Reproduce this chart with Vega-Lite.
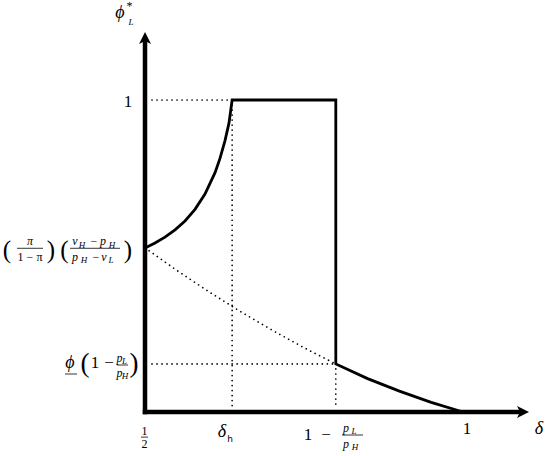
{
  "$schema": "https://vega.github.io/schema/vega-lite/v6.json",
  "width": 550,
  "height": 456,
  "autosize": "none",
  "padding": 0,
  "background": "white",
  "config": {"view": {"stroke": null}},
  "datasets": {
    "curve": [
      {"o": 0, "x": 0.5, "y": 0.526},
      {"o": 1, "x": 0.5157, "y": 0.5417},
      {"o": 2, "x": 0.5314, "y": 0.5606},
      {"o": 3, "x": 0.5472, "y": 0.5837},
      {"o": 4, "x": 0.5629, "y": 0.6122},
      {"o": 5, "x": 0.5786, "y": 0.6494},
      {"o": 6, "x": 0.5943, "y": 0.6984},
      {"o": 7, "x": 0.6101, "y": 0.767},
      {"o": 8, "x": 0.6179, "y": 0.8129},
      {"o": 9, "x": 0.6258, "y": 0.8699},
      {"o": 10, "x": 0.6321, "y": 0.9266},
      {"o": 11, "x": 0.637, "y": 1.0},
      {"o": 12, "x": 0.8, "y": 1.0},
      {"o": 13, "x": 0.8, "y": 0.154},
      {"o": 14, "x": 0.85, "y": 0.107},
      {"o": 15, "x": 0.9, "y": 0.067},
      {"o": 16, "x": 0.95, "y": 0.031},
      {"o": 17, "x": 1.0, "y": 0.0}
    ],
    "dots": [
      {"seg": "a", "o": 0, "x": 0.511, "y": 1.0},
      {"seg": "a", "o": 1, "x": 0.637, "y": 1.0},
      {"seg": "b", "o": 0, "x": 0.637, "y": 1.0},
      {"seg": "b", "o": 1, "x": 0.637, "y": 0.016},
      {"seg": "c", "o": 0, "x": 0.5, "y": 0.526},
      {"seg": "c", "o": 1, "x": 0.55, "y": 0.454},
      {"seg": "c", "o": 2, "x": 0.6, "y": 0.386},
      {"seg": "c", "o": 3, "x": 0.65, "y": 0.322},
      {"seg": "c", "o": 4, "x": 0.7, "y": 0.262},
      {"seg": "c", "o": 5, "x": 0.75, "y": 0.206},
      {"seg": "c", "o": 6, "x": 0.8, "y": 0.154},
      {"seg": "d", "o": 0, "x": 0.511, "y": 0.154},
      {"seg": "d", "o": 1, "x": 0.8, "y": 0.154},
      {"seg": "e", "o": 0, "x": 0.8, "y": 0.154},
      {"seg": "e", "o": 1, "x": 0.8, "y": 0.016}
    ],
    "axes": [
      {"x": 0.5, "y": 0, "x2": 1.0897, "y2": 0},
      {"x": 0.5, "y": 0, "x2": 0.5, "y2": 1.1923}
    ],
    "arrows": [
      {"dir": "up", "x": 0.5, "y": 1.2179},
      {"dir": "right", "x": 1.1038, "y": 0}
    ],
    "bars": [
      {"x": 0.2987, "x2": 0.3396, "y": 0.5247},
      {"x": 0.3821, "x2": 0.4607, "y": 0.5247},
      {"x": 0.3742, "x2": 0.3931, "y": 0.1218},
      {"x": 0.456, "x2": 0.4733, "y": 0.1507},
      {"x": 0.4937, "x2": 0.5047, "y": -0.0804},
      {"x": 0.8098, "x2": 0.8428, "y": -0.0737}
    ],
    "txt": [
      {"x": 0.4607, "y": 1.2788, "t": "ϕ", "k": "LI"},
      {"x": 0.4756, "y": 1.3013, "t": "*", "k": "S"},
      {"x": 0.478, "y": 1.25, "t": "L", "k": "T"},
      {"x": 0.4733, "y": 0.9936, "t": "1", "k": "L"},
      {"x": 0.283, "y": 0.5193, "t": "(", "k": "P"},
      {"x": 0.3192, "y": 0.5465, "t": "π", "k": "SI"},
      {"x": 0.3192, "y": 0.4968, "t": "1 − π", "k": "S"},
      {"x": 0.3522, "y": 0.5193, "t": ")", "k": "P"},
      {"x": 0.3734, "y": 0.5193, "t": "(", "k": "P"},
      {"x": 0.3899, "y": 0.5465, "t": "v", "k": "SI"},
      {"x": 0.4009, "y": 0.5353, "t": "H", "k": "T"},
      {"x": 0.4198, "y": 0.5465, "t": "−", "k": "S"},
      {"x": 0.434, "y": 0.5465, "t": "p", "k": "SI"},
      {"x": 0.4481, "y": 0.5353, "t": "H", "k": "T"},
      {"x": 0.3899, "y": 0.4968, "t": "p", "k": "SI"},
      {"x": 0.4041, "y": 0.4875, "t": "H", "k": "T"},
      {"x": 0.4229, "y": 0.4968, "t": "−", "k": "S"},
      {"x": 0.4355, "y": 0.4968, "t": "v", "k": "SI"},
      {"x": 0.4465, "y": 0.4875, "t": "L", "k": "T"},
      {"x": 0.4733, "y": 0.5193, "t": ")", "k": "P"},
      {"x": 0.3821, "y": 0.1571, "t": "ϕ", "k": "LI"},
      {"x": 0.4057, "y": 0.1539, "t": "(", "k": "PB"},
      {"x": 0.4214, "y": 0.1571, "t": "1", "k": "L"},
      {"x": 0.4434, "y": 0.1571, "t": "−", "k": "L"},
      {"x": 0.4599, "y": 0.1731, "t": "p", "k": "SI"},
      {"x": 0.4678, "y": 0.1635, "t": "L", "k": "T"},
      {"x": 0.4599, "y": 0.1251, "t": "p", "k": "SI"},
      {"x": 0.4685, "y": 0.1154, "t": "H", "k": "T"},
      {"x": 0.4827, "y": 0.1539, "t": ")", "k": "PB"},
      {"x": 0.4992, "y": -0.0609, "t": "1", "k": "S"},
      {"x": 0.4992, "y": -0.1025, "t": "2", "k": "S"},
      {"x": 0.6211, "y": -0.0641, "t": "δ", "k": "LI"},
      {"x": 0.6337, "y": -0.0865, "t": "h", "k": "H"},
      {"x": 0.7563, "y": -0.0737, "t": "1", "k": "L"},
      {"x": 0.7846, "y": -0.0737, "t": "−", "k": "L"},
      {"x": 0.816, "y": -0.0513, "t": "p", "k": "SI"},
      {"x": 0.8286, "y": -0.0609, "t": "L", "k": "T"},
      {"x": 0.816, "y": -0.1025, "t": "p", "k": "SI"},
      {"x": 0.8302, "y": -0.1121, "t": "H", "k": "T"},
      {"x": 1.0063, "y": -0.0544, "t": "1", "k": "L"},
      {"x": 1.1195, "y": -0.0544, "t": "δ", "k": "LI"}
    ]
  },
  "layer": [
    {
      "data": {"name": "dots"},
      "mark": {"type": "line", "color": "black", "strokeWidth": 1.7, "strokeDash": [0.01, 5], "strokeCap": "round"},
      "encoding": {
        "x": {"field": "x", "type": "quantitative", "scale": {"domain": [0.272, 1.1368], "nice": false, "zero": false}, "axis": null},
        "y": {"field": "y", "type": "quantitative", "scale": {"domain": [-0.141, 1.3205], "nice": false, "zero": false}, "axis": null},
        "detail": {"field": "seg"},
        "order": {"field": "o"}
      }
    },
    {
      "data": {"name": "axes"},
      "mark": {"type": "rule", "color": "black", "strokeWidth": 4.5, "strokeCap": "square"},
      "encoding": {
        "x": {"field": "x", "type": "quantitative"},
        "y": {"field": "y", "type": "quantitative"},
        "x2": {"field": "x2"},
        "y2": {"field": "y2"}
      }
    },
    {
      "data": {"name": "curve"},
      "mark": {"type": "line", "color": "black", "strokeWidth": 2.8, "strokeJoin": "miter"},
      "encoding": {
        "x": {"field": "x", "type": "quantitative"},
        "y": {"field": "y", "type": "quantitative"},
        "order": {"field": "o"}
      }
    },
    {
      "data": {"name": "arrows"},
      "transform": [{"filter": "datum.dir === 'up'"}],
      "mark": {"type": "point", "shape": "M0,0L1,2L0,1.5L-1,2Z", "size": 144, "filled": true, "color": "black", "opacity": 1, "strokeWidth": 0},
      "encoding": {
        "x": {"field": "x", "type": "quantitative"},
        "y": {"field": "y", "type": "quantitative"}
      }
    },
    {
      "data": {"name": "arrows"},
      "transform": [{"filter": "datum.dir === 'right'"}],
      "mark": {"type": "point", "shape": "M0,0L-2,1L-1.5,0L-2,-1Z", "size": 144, "filled": true, "color": "black", "opacity": 1, "strokeWidth": 0},
      "encoding": {
        "x": {"field": "x", "type": "quantitative"},
        "y": {"field": "y", "type": "quantitative"}
      }
    },
    {
      "data": {"name": "bars"},
      "mark": {"type": "rule", "color": "black", "strokeWidth": 0.8},
      "encoding": {
        "x": {"field": "x", "type": "quantitative"},
        "x2": {"field": "x2"},
        "y": {"field": "y", "type": "quantitative"}
      }
    },
    {
      "data": {"name": "txt"},
      "transform": [{"filter": "datum.k === 'L'"}],
      "mark": {"type": "text", "font": "Liberation Serif", "fontSize": 17, "align": "center", "baseline": "middle", "color": "black"},
      "encoding": {"x": {"field": "x", "type": "quantitative"}, "y": {"field": "y", "type": "quantitative"}, "text": {"field": "t"}}
    },
    {
      "data": {"name": "txt"},
      "transform": [{"filter": "datum.k === 'LI'"}],
      "mark": {"type": "text", "font": "Liberation Serif", "fontStyle": "italic", "fontSize": 18, "align": "center", "baseline": "middle", "color": "black"},
      "encoding": {"x": {"field": "x", "type": "quantitative"}, "y": {"field": "y", "type": "quantitative"}, "text": {"field": "t"}}
    },
    {
      "data": {"name": "txt"},
      "transform": [{"filter": "datum.k === 'S'"}],
      "mark": {"type": "text", "font": "Liberation Serif", "fontSize": 12, "align": "center", "baseline": "middle", "color": "black"},
      "encoding": {"x": {"field": "x", "type": "quantitative"}, "y": {"field": "y", "type": "quantitative"}, "text": {"field": "t"}}
    },
    {
      "data": {"name": "txt"},
      "transform": [{"filter": "datum.k === 'SI'"}],
      "mark": {"type": "text", "font": "Liberation Serif", "fontStyle": "italic", "fontSize": 12, "align": "center", "baseline": "middle", "color": "black"},
      "encoding": {"x": {"field": "x", "type": "quantitative"}, "y": {"field": "y", "type": "quantitative"}, "text": {"field": "t"}}
    },
    {
      "data": {"name": "txt"},
      "transform": [{"filter": "datum.k === 'T'"}],
      "mark": {"type": "text", "font": "Liberation Serif", "fontStyle": "italic", "fontSize": 9, "align": "center", "baseline": "middle", "color": "black"},
      "encoding": {"x": {"field": "x", "type": "quantitative"}, "y": {"field": "y", "type": "quantitative"}, "text": {"field": "t"}}
    },
    {
      "data": {"name": "txt"},
      "transform": [{"filter": "datum.k === 'P'"}],
      "mark": {"type": "text", "font": "Liberation Serif", "fontSize": 25, "align": "center", "baseline": "middle", "color": "black"},
      "encoding": {"x": {"field": "x", "type": "quantitative"}, "y": {"field": "y", "type": "quantitative"}, "text": {"field": "t"}}
    },
    {
      "data": {"name": "txt"},
      "transform": [{"filter": "datum.k === 'PB'"}],
      "mark": {"type": "text", "font": "Liberation Serif", "fontSize": 27, "align": "center", "baseline": "middle", "color": "black"},
      "encoding": {"x": {"field": "x", "type": "quantitative"}, "y": {"field": "y", "type": "quantitative"}, "text": {"field": "t"}}
    },
    {
      "data": {"name": "txt"},
      "transform": [{"filter": "datum.k === 'H'"}],
      "mark": {"type": "text", "font": "DejaVu Sans", "fontSize": 9, "align": "center", "baseline": "middle", "color": "black"},
      "encoding": {"x": {"field": "x", "type": "quantitative"}, "y": {"field": "y", "type": "quantitative"}, "text": {"field": "t"}}
    }
  ]
}
